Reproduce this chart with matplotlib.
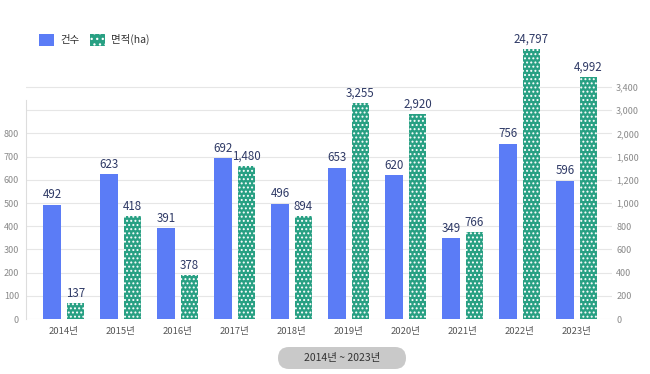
import matplotlib.pyplot as plt
import numpy as np
from matplotlib.patches import Patch, FancyBboxPatch

plt.rcParams['font.family'] = ['Noto Sans CJK KR', 'DejaVu Sans']
plt.rcParams['hatch.linewidth'] = 0.9

# Data
years = ['2014년', '2015년', '2016년', '2017년', '2018년',
         '2019년', '2020년', '2021년', '2022년', '2023년']
counts = [492, 623, 391, 692, 496, 653, 620, 349, 756, 596]
area = [137, 418, 378, 1480, 894, 3255, 2920, 766, 24797, 4992]
# area bar heights as drawn in the picture (right axis units, bars above 3,400 are capped)
area_drawn = [137, 888, 378, 1438, 888, 3128, 2840, 750, 4050, 3576]
left_ticks = [0, 100, 200, 300, 400, 500, 600, 700, 800]
right_ticks = [0, 200, 400, 600, 800, 1000, 1200, 1600, 2000, 3000, 3400]

BLUE = '#5b7cf6'
GREEN = '#28a083'
LABEL = '#2f3a66'
TICK = '#8a8a8a'

# right axis is piecewise: its ticks sit on the left axis grid (0..1000 step 100)
_r = np.array(right_ticks + [7400], dtype=float)
_l = np.array(list(range(0, 1001, 100)) + [2000], dtype=float)


def fwd(v):
    return np.interp(v, _r, _l)


def inv(v):
    return np.interp(v, _l, _r)


fig = plt.figure(figsize=(6.5, 3.74), dpi=100)
ax = fig.add_axes([0.04, 0.147, 0.9015, 0.7754])
ax2 = ax.twinx()
ax2.set_yscale('function', functions=(fwd, inv))

x = np.arange(len(years))
w = 0.307
off = 0.205

ax.bar(x - off, counts, w, color=BLUE, zorder=3)
ax2.bar(x + off, area_drawn, w, color=GREEN, edgecolor='white', linewidth=0,
        hatch='....', zorder=3)

ymax = 1250
ax.set_ylim(0, ymax)
ax2.set_ylim(0, inv(ymax))
ax.set_xlim(-0.663, 9.617)

for xi, v in zip(x, counts):
    ax.annotate(f'{v:,}', (xi - off, v), xytext=(0, 2.5), textcoords='offset points',
                ha='center', va='bottom', fontsize=8.3, color=LABEL, clip_on=False)
for xi, h, v in zip(x, area_drawn, area):
    ax2.annotate(f'{v:,}', (xi + off, h), xytext=(0, 2.5), textcoords='offset points',
                 ha='center', va='bottom', fontsize=8.3, color=LABEL, clip_on=False)

# grid
for g in range(0, 1001, 100):
    ax.axhline(g, color='#e6e6e6', linewidth=0.8, zorder=0)

ax.set_yticks(left_ticks)
ax.set_yticklabels([str(t) for t in left_ticks])
ax.tick_params(axis='y', length=0, labelsize=6.5, labelcolor=TICK, pad=5)
ax2.set_yticks(right_ticks)
ax2.set_yticklabels([f'{t:,}' for t in right_ticks])
ax2.yaxis.set_minor_locator(plt.NullLocator())
ax2.tick_params(axis='y', length=0, labelsize=6.5, labelcolor=TICK, pad=3)

ax.set_xticks(x)
ax.set_xticklabels(years)
ax.tick_params(axis='x', length=0, labelsize=6.8, labelcolor='#555555', pad=6)

for a in (ax, ax2):
    for s in ('top', 'right', 'bottom'):
        a.spines[s].set_visible(False)
ax2.spines['left'].set_visible(False)
ax.spines['left'].set_color('#dddddd')
ax.spines['left'].set_linewidth(0.8)
ax.spines['left'].set_bounds(0, 945)

# legend
handles = [Patch(facecolor=BLUE, label='건수'),
           Patch(facecolor=GREEN, edgecolor='white', linewidth=0, hatch='...', label='면적(ha)')]
fig.legend(handles=handles, loc='upper left', bbox_to_anchor=(0.045, 0.935), ncol=2,
           frameon=False, fontsize=7.5, handlelength=1.45, handleheight=1.45,
           handletextpad=0.6, columnspacing=1.0, labelcolor='#333333')

# period pill, drawn in a small pixel-sized axes
pax = fig.add_axes([278 / 650, 5 / 374, 128 / 650, 22 / 374])
pax.set_xlim(0, 128)
pax.set_ylim(0, 22)
pax.axis('off')
pax.add_patch(FancyBboxPatch((0, 0), 128, 22, boxstyle='round,pad=0,rounding_size=11',
                             facecolor='#c9c9c9', edgecolor='none', clip_on=False))
pax.text(64, 11, '2014년 ~ 2023년', ha='center', va='center',
         fontsize=7.5, color='#333333')

fig.savefig('out.png', dpi=100)
